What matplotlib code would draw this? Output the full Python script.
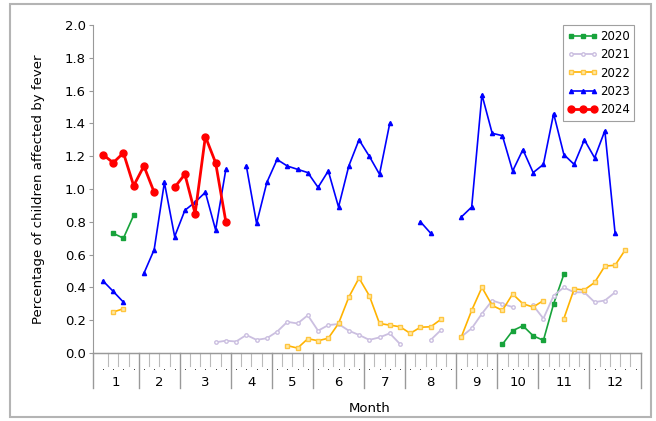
import numpy as np
import matplotlib
matplotlib.use("Agg")
import matplotlib.pyplot as plt
from matplotlib.patches import Rectangle
from matplotlib.lines import Line2D

nan = np.nan
weeks = np.arange(1, 53)

def series(d):
    arr = np.full(52, nan)
    for w, v in d.items():
        arr[w - 1] = v
    return arr

v2020 = series({2: 0.73, 3: 0.70, 4: 0.84,
                40: 0.053, 41: 0.136, 42: 0.166, 43: 0.105, 44: 0.077, 45: 0.30, 46: 0.48})
v2021 = series({12: 0.065, 13: 0.075, 14: 0.07, 15: 0.11, 16: 0.08, 17: 0.09, 18: 0.13,
                19: 0.19, 20: 0.18, 21: 0.23, 22: 0.136, 23: 0.17, 24: 0.177, 25: 0.136,
                26: 0.11, 27: 0.08, 28: 0.095, 29: 0.12, 30: 0.055,
                33: 0.08, 34: 0.14,
                36: 0.10, 37: 0.15, 38: 0.24, 39: 0.32, 40: 0.30, 41: 0.28,
                43: 0.29, 44: 0.21, 45: 0.35, 46: 0.40, 47: 0.37, 48: 0.37,
                49: 0.31, 50: 0.32, 51: 0.37})
v2022 = series({2: 0.25, 3: 0.27,
                19: 0.045, 20: 0.03, 21: 0.087, 22: 0.075, 23: 0.09, 24: 0.18, 25: 0.34,
                26: 0.457, 27: 0.35, 28: 0.18, 29: 0.17, 30: 0.16, 31: 0.12, 32: 0.157,
                33: 0.16, 34: 0.205,
                36: 0.10, 37: 0.26, 38: 0.40, 39: 0.29, 40: 0.26, 41: 0.36, 42: 0.30,
                43: 0.28, 44: 0.32,
                46: 0.21, 47: 0.39, 48: 0.385, 49: 0.43, 50: 0.53, 51: 0.535, 52: 0.63})
v2023 = series({1: 0.44, 2: 0.376, 3: 0.31,
                5: 0.486, 6: 0.63, 7: 1.04, 8: 0.71, 9: 0.87, 10: 0.92, 11: 0.98, 12: 0.75, 13: 1.12,
                15: 1.14, 16: 0.79, 17: 1.04, 18: 1.18, 19: 1.14, 20: 1.12, 21: 1.10, 22: 1.01,
                23: 1.11, 24: 0.89, 25: 1.14, 26: 1.30, 27: 1.20, 28: 1.09, 29: 1.40,
                32: 0.80, 33: 0.73,
                36: 0.83, 37: 0.89, 38: 1.575, 39: 1.34, 40: 1.325, 41: 1.11, 42: 1.24, 43: 1.10,
                44: 1.15, 45: 1.46, 46: 1.21, 47: 1.15, 48: 1.30, 49: 1.19, 50: 1.355, 51: 0.73})
v2024 = series({1: 1.21, 2: 1.16, 3: 1.22, 4: 1.02, 5: 1.14, 6: 0.98,
                8: 1.01, 9: 1.09, 10: 0.85, 11: 1.32, 12: 1.16, 13: 0.80})

months = ["1", "2", "3", "4", "5", "6", "7", "8", "9", "10", "11", "12"]
month_last_week = [4, 8, 13, 17, 21, 26, 30, 35, 39, 43, 48, 53]
n_weeks = 53

fig = plt.figure(figsize=(6.56, 4.21), dpi=100)
fig.patches.append(Rectangle((10/656, 4/421), 641/656, 413/421, transform=fig.transFigure,
                             fill=False, edgecolor="#b4b4b4", linewidth=1.5))
ax = fig.add_axes([92.7/656, 68/421, 548/656, 328/421])

ax.plot(weeks, v2020, color="#17a33b", lw=1.2, marker="s", ms=3.0, label="2020")
ax.plot(weeks, v2021, color="#cbbfe0", lw=1.3, marker="o", ms=2.5, mfc="white", mec="#cbbfe0", label="2021")
ax.plot(weeks, v2022, color="#ffb300", lw=1.2, marker="s", ms=3.0, mfc="#ffe9a8", mec="#ffc640", label="2022")
ax.plot(weeks, v2023, color="#0000ff", lw=1.2, marker="^", ms=3.0, label="2023")
ax.plot(weeks, v2024, color="#ff0000", lw=2.0, marker="o", ms=5, label="2024")

ax.set_xlim(0, n_weeks + 0.5)
ax.set_ylim(0, 2.0)
ax.set_yticks(np.arange(0, 2.01, 0.2))
ax.set_yticklabels([f"{v:.1f}" for v in np.arange(0, 2.01, 0.2)], fontsize=9.5)
ax.tick_params(axis="y", length=3, width=0.8, color="#999999", pad=2)
ax.set_xticks([])
for s in ["top", "right"]:
    ax.spines[s].set_visible(False)
ax.spines["left"].set_color("#999999")
ax.spines["bottom"].set_color("#999999")

ax.set_ylabel("Percentage of children affected by fever", fontsize=9.5, labelpad=14)

# nested week/month axis
trans = ax.get_xaxis_transform()
px = 1 / 328.0
ax.add_line(Line2D([0, 0], [0, -35 * px], transform=trans, color="#999999", lw=1, clip_on=False))
ax.plot(np.arange(1, n_weeks + 1), np.full(n_weeks, -16 * px), transform=trans, ls="none",
        marker="s", ms=0.7, mew=0, color="#444444", clip_on=False)
bounds = [b + 0.5 for b in month_last_week]
for b in np.arange(1.5, n_weeks, 1.0):
    if b in bounds:
        continue
    ax.add_line(Line2D([b, b], [0, -13 * px], transform=trans, color="#bbbbbb", lw=0.8, clip_on=False))
for b in bounds:
    ax.add_line(Line2D([b, b], [0, -35 * px], transform=trans, color="#999999", lw=1, clip_on=False))
starts = [0] + bounds[:-1]
for m, s0, e0 in zip(months, starts, bounds):
    ax.text((s0 + e0) / 2, -30 * px, m, transform=trans, ha="center", va="center", fontsize=9.5)
ax.text(n_weeks / 2 + 0.5, -55 * px, "Month", transform=trans, ha="center", va="center", fontsize=9.5)
ax.add_line(Line2D([0, n_weeks + 0.5], [0, 0], transform=trans, color="#999999", lw=1, clip_on=False))

leg = ax.legend(loc="upper right", bbox_to_anchor=(0.995, 1.01), fontsize=8.5, numpoints=3,
                handlelength=2.5, handletextpad=0.2, labelspacing=0.45, borderpad=0.4,
                frameon=True, fancybox=False, edgecolor="#888888", borderaxespad=0.3)
leg.get_frame().set_linewidth(0.8)

fig.savefig("out.png", dpi=100)
